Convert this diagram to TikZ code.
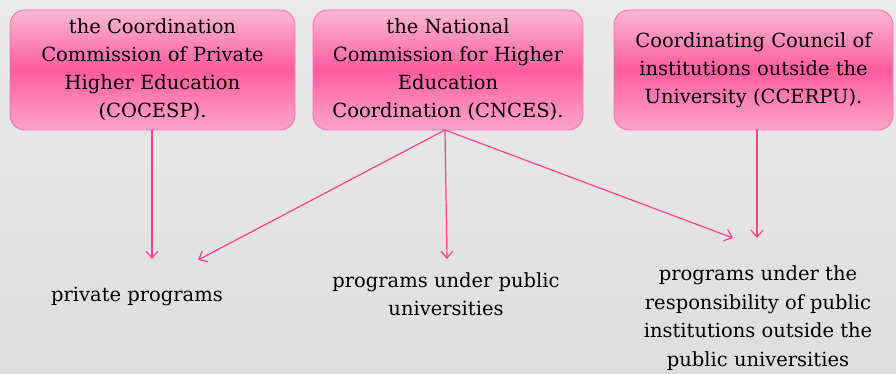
\documentclass[tikz,border=0pt]{standalone}
\usepackage{fontspec}
\setmainfont{DejaVu Serif}
\usetikzlibrary{arrows.meta}
\definecolor{pinkline}{HTML}{FF3E8C}
\definecolor{boxedge}{HTML}{FF6FB0}
\definecolor{pinktop}{HTML}{FBB8D2}
\definecolor{pinkmid}{HTML}{FF5C9E}
\definecolor{pinkbot}{HTML}{FCA6C8}
\definecolor{bgtop}{HTML}{EAEAEA}
\definecolor{bgbot}{HTML}{DEDEDE}
\tikzset{
  orgbox/.style={draw=boxedge, line width=0.9pt, rounded corners=15pt,
    top color=pinktop, bottom color=pinkbot, middle color=pinkmid,
    minimum width=#1, minimum height=120pt, align=center, inner sep=2pt,
    font=\fontsize{19.5}{28}\selectfont},
  leaf/.style={align=center, font=\fontsize{19.5}{28.5}\selectfont, inner sep=0pt},
  link/.style={draw=pinkline, line width=1.2pt, -{Straight Barb[length=7pt,width=12pt]}}
}
\begin{document}
\begin{tikzpicture}[x=1pt,y=-1pt]
\fill[top color=bgtop, bottom color=bgbot] (0,0) rectangle (896,374);
\useasboundingbox (0,0) rectangle (896,374);
\node[orgbox=285pt] (b1) at (152.5,70) {the Coordination\\Commission of Private\\Higher Education\\(COCESP).};
\node[orgbox=270pt] (b2) at (448,70) {the National\\Commission for Higher\\Education\\Coordination (CNCES).};
\node[orgbox=279pt] (b3) at (753.5,70) {Coordinating Council of\\institutions outside the\\University (CCERPU).};
\node[leaf] (l1) at (137,296) {private programs};
\node[leaf] (l2) at (446,294) {programs under public\\universities};
\node[leaf] (l3) at (758,318) {programs under the\\responsibility of public\\institutions outside the\\public universities};
\coordinate (t1) at (152,259);
\coordinate (t2) at (198,260);
\coordinate (t3) at (447,259);
\coordinate (t4) at (733,238);
\coordinate (t5) at (757,238);
\draw[link] (b1.south -| t1) -- (t1);
\draw[link] (445,130) -- (t2);
\draw[link] (445,130) -- (t3);
\draw[link] (445,130) -- (t4);
\draw[link] (b3.south -| t5) -- (t5);
\end{tikzpicture}
\end{document}
